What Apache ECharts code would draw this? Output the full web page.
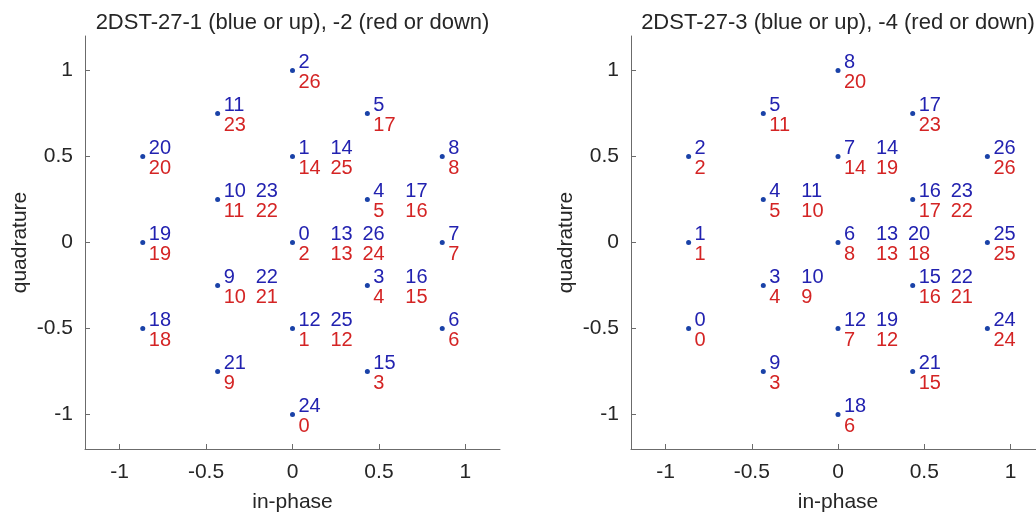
<!DOCTYPE html>
<html><head><meta charset="utf-8">
<script src="https://cdn.jsdelivr.net/npm/echarts@6/dist/echarts.min.js"></script>
<style>html,body{margin:0;padding:0;background:#fff}#c{width:1036px;height:513px}</style>
</head><body><div id="c"></div>
<script>
// constellation point coordinates (19-point hexagonal)
const inPhase    = [0, -0.433, 0.433, -0.866, 0, 0.866, -0.433, 0.433, -0.866, 0, 0.866, -0.433, 0.433, -0.866, 0, 0.866, -0.433, 0.433, 0];
const quadrature = [1, 0.75, 0.75, 0.5, 0.5, 0.5, 0.25, 0.25, 0, 0, 0, -0.25, -0.25, -0.5, -0.5, -0.5, -0.75, -0.75, -1];
// labels per point
const upLabels1   = [[2],[11],[5],[20],[1,14],[8],[10,23],[4,17],[19],[0,13,26],[7],[9,22],[3,16],[18],[12,25],[6],[21],[15],[24]];
const downLabels2 = [[26],[23],[17],[20],[14,25],[8],[11,22],[5,16],[19],[2,13,24],[7],[10,21],[4,15],[18],[1,12],[6],[9],[3],[0]];
const upLabels3   = [[8],[5],[17],[2],[7,14],[26],[4,11],[16,23],[1],[6,13,20],[25],[3,10],[15,22],[0],[12,19],[24],[9],[21],[18]];
const downLabels4 = [[20],[11],[23],[2],[14,19],[26],[5,10],[17,22],[1],[8,13,18],[25],[4,9],[16,21],[0],[7,12],[24],[3],[15],[6]];
const titles = ['2DST-27-1 (blue or up), -2 (red or down)', '2DST-27-3 (blue or up), -4 (red or down)'];
const tickValues = [-1, -0.5, 0, 0.5, 1];
const xName = 'in-phase', yName = 'quadrature';

const FONT = "'Liberation Sans', Arial, Helvetica, sans-serif";
const BLUE = '#2222b0', RED = '#d42424', DOT = '#1a42a8', AXIS = '#6b6b6b', TXT = '#262626';
const COLW = 32;

const grids = [
  {left: 85, top: 36, width: 415, height: 413, outerBoundsMode: 'none', containLabel: false},
  {left: 631, top: 36, width: 414, height: 413, outerBoundsMode: 'none', containLabel: false}
];

function mkAxis(idx, isX) {
  return {
    type: 'value', gridIndex: idx, min: -1.2, max: 1.2,
    name: isX ? xName : yName, nameLocation: 'middle', nameGap: isX ? 43 : 54,
    nameTextStyle: {fontFamily: FONT, fontSize: 21, color: TXT},
    axisLine: {show: true, onZero: false, lineStyle: {color: AXIS, width: 1}},
    axisTick: {show: true, inside: true, length: 5, customValues: tickValues, lineStyle: {color: AXIS}},
    axisLabel: {show: true, customValues: tickValues, margin: isX ? 13 : 12, fontFamily: FONT, fontSize: 21, color: TXT},
    splitLine: {show: false}
  };
}

function labelSeries(idx, lists, color, dy) {
  const data = [];
  lists.forEach((arr, p) => {
    arr.forEach((v, k) => {
      data.push({
        value: [inPhase[p], quadrature[p]],
        label: {show: true, formatter: String(v), position: 'right', distance: 0,
                offset: [6 + k * COLW, dy], color: color, opacity: 1, fontFamily: FONT, fontSize: 20,
                align: 'left', verticalAlign: 'middle'}
      });
    });
  });
  return {type: 'scatter', xAxisIndex: idx, yAxisIndex: idx, symbolSize: 0,
          itemStyle: {color: 'rgba(0,0,0,0)', opacity: 1}, silent: true, data: data, z: 3};
}

function dotSeries(idx) {
  return {type: 'scatter', xAxisIndex: idx, yAxisIndex: idx, symbol: 'circle', symbolSize: 5,
          itemStyle: {color: DOT, opacity: 1}, silent: true,
          data: inPhase.map((x, i) => [x, quadrature[i]]), z: 4};
}

const chart = echarts.init(document.getElementById('c'), null, {renderer: 'canvas'});
chart.setOption({
  animation: false,
  backgroundColor: '#fff',
  title: titles.map((t, i) => ({
    text: t, left: grids[i].left + grids[i].width / 2, top: 12, padding: 0, textAlign: 'center',
    textStyle: {fontFamily: FONT, fontSize: 22, fontWeight: 'normal', color: TXT}
  })),
  grid: grids,
  xAxis: [mkAxis(0, true), mkAxis(1, true)],
  yAxis: [mkAxis(0, false), mkAxis(1, false)],
  series: [
    dotSeries(0), labelSeries(0, upLabels1, BLUE, -8), labelSeries(0, downLabels2, RED, 12),
    dotSeries(1), labelSeries(1, upLabels3, BLUE, -8), labelSeries(1, downLabels4, RED, 12)
  ]
});
</script></body></html>
